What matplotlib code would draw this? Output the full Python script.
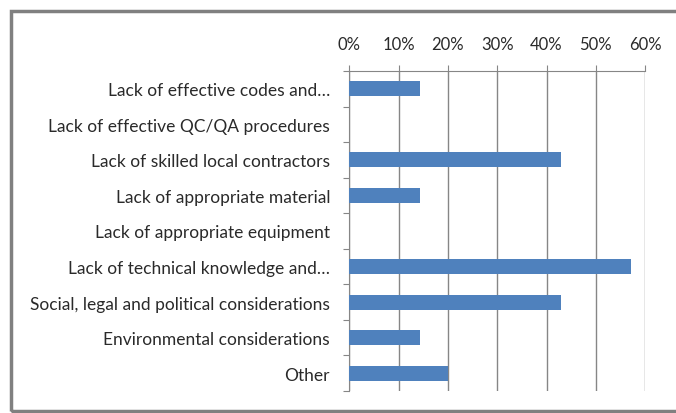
import numpy as np
import matplotlib.pyplot as plt
from matplotlib.patches import Rectangle
from matplotlib.ticker import FuncFormatter

categories = [
    "Lack of effective codes and\u2026",
    "Lack of effective QC/QA procedures",
    "Lack of skilled local contractors",
    "Lack of appropriate material",
    "Lack of appropriate equipment",
    "Lack of technical knowledge and\u2026",
    "Social, legal and political considerations",
    "Environmental considerations",
    "Other",
]
shares = [0.143, 0.0, 0.429, 0.143, 0.0, 0.571, 0.429, 0.143, 0.20]
xticks = [0, 0.1, 0.2, 0.3, 0.4, 0.5, 0.6]

plt.rcParams['font.family'] = ['Lato', 'DejaVu Sans']

fig = plt.figure(figsize=(6.76, 4.14), dpi=100)
ax = fig.add_axes([349.5 / 676, 22 / 414, 295.5 / 676, 320 / 414])

pos = np.arange(len(categories))
ax.barh(pos, shares, height=0.42, color='#4F81BD', zorder=3)

ax.set_xlim(0, 0.6)
ax.set_ylim(len(categories) - 0.5, -0.5)

gray = '#868686'
ax.xaxis.tick_top()
ax.set_xticks(xticks)
ax.xaxis.set_major_formatter(FuncFormatter(lambda v, p: f"{v * 100:.0f}%"))
ax.tick_params(axis='x', direction='out', length=4.5, color=gray, labelsize=12,
               pad=9.5, labelcolor='#2a2a2a')
ax.grid(axis='x', color=gray, linewidth=1, zorder=0)

# category ticks sit on the boundaries, labels sit in the middle
ax.set_yticks(np.arange(-0.5, len(categories), 1.0))
ax.set_yticklabels([])
ax.set_yticks(pos, minor=True)
ax.set_yticklabels(categories, minor=True)
ax.tick_params(axis='y', which='major', direction='out', length=4.5, color=gray)
ax.tick_params(axis='y', which='minor', length=0, pad=14, labelsize=12.5,
               labelcolor='#2a2a2a')

for side in ['right', 'bottom']:
    ax.spines[side].set_visible(False)
ax.spines['top'].set_color(gray)
ax.spines['left'].set_color(gray)

# grey outer frame, right edge runs off the picture
fig.patches.append(Rectangle((10.5 / 676, 2 / 414), 1.0, 400 / 414,
                             transform=fig.transFigure, fill=False,
                             edgecolor='#808080', linewidth=2.5))

fig.savefig('out.png', dpi=100)
